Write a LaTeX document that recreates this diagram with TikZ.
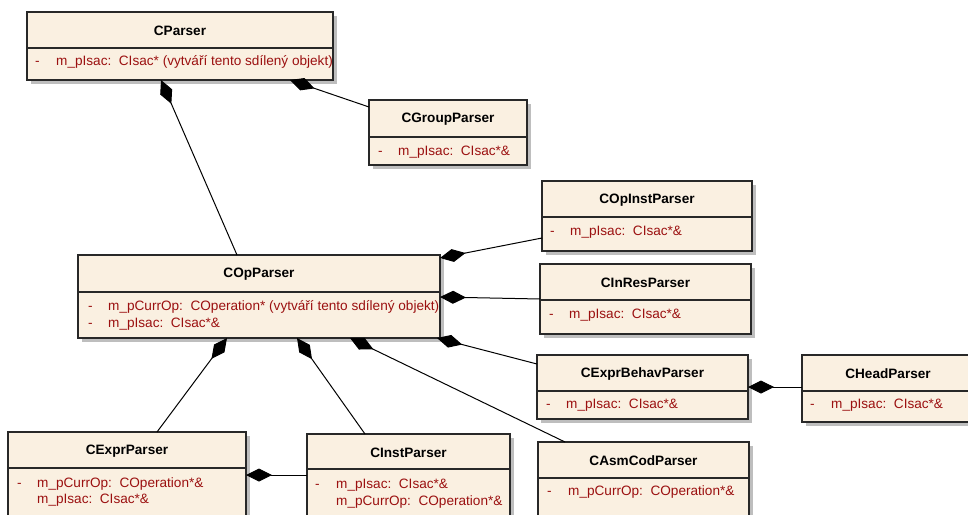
\documentclass[tikz,border=0pt]{standalone}
\usepackage{fontspec}
\setmainfont{Liberation Sans}
\usetikzlibrary{arrows.meta,shadows}

\definecolor{classfill}{RGB}{250,240,225}
\definecolor{classline}{RGB}{40,40,40}
\definecolor{attrred}{RGB}{155,16,16}
\definecolor{shadowgray}{RGB}{190,190,190}

\tikzset{
  classbox/.style={draw=classline, line width=1.2pt, fill=classfill,
    anchor=north west, inner sep=0pt, outer sep=0pt,
    drop shadow={shadow xshift=4pt, shadow yshift=-4pt, fill=shadowgray, opacity=1}},
  sepline/.style={draw=classline, line width=1.2pt},
  classtitle/.style={font=\fontsize{13.6}{16}\selectfont\bfseries, text=black, inner sep=0pt},
  attr/.style={font=\fontsize{13.6}{16}\selectfont, text=attrred, inner sep=0pt, anchor=base west},
  comp/.style={draw=black, line width=1pt, {Diamond[length=26pt,width=13pt,fill=black]}-},
}

% class box: name, x, y (top left), width, height, header height, title
\newcommand\umlclass[7]{%
  \node[classbox, minimum width=#4pt, minimum height=#5pt] (#1) at (#2,#3) {};
  \draw[sepline] ([yshift={-#6pt}]#1.north west) -- ([yshift={-#6pt}]#1.north east);
  \node[classtitle] (#1-title) at ([yshift={-0.5*#6pt-1pt}]#1.north) {#7};
}

\begin{document}
\begin{tikzpicture}[x=1pt, y=-1pt]
  \useasboundingbox (0,0) rectangle (968,514);
  \clip (0,0) rectangle (968,514);

  % classes
  \umlclass{cparser}{27}{12}{306}{68}{36}{CParser}
  \umlclass{cgroup}{369}{100}{158}{65}{37}{CGroupParser}
  \umlclass{copparser}{78}{255}{362}{83}{37}{COpParser}
  \umlclass{copinst}{542}{181}{210}{70}{36}{COpInstParser}
  \umlclass{cinres}{540}{264}{211}{70}{36}{CInResParser}
  \umlclass{cexprbehav}{537}{355}{211}{64}{36}{CExprBehavParser}
  \umlclass{chead}{802}{355}{172}{67}{36}{CHeadParser}
  \umlclass{cexpr}{8}{432}{238}{100}{36}{CExprParser}
  \umlclass{cinst}{307}{434}{203}{100}{35}{CInstParser}
  \umlclass{casm}{538}{442}{211}{100}{36}{CAsmCodParser}

  % attributes
  \node[attr] (cparser-d1) at (35,65) {-};
  \node[attr] (cparser-a1) at (56,65) {m\_pIsac:\ \ CIsac* (vytváří tento sdílený objekt)};

  \node[attr] (cgroup-d1) at (378,155) {-};
  \node[attr] (cgroup-a1) at (398,155) {m\_pIsac:\ \ CIsac*\&};

  \node[attr] (copparser-d1) at (88,310) {-};
  \node[attr] (copparser-a1) at (108,310) {m\_pCurrOp:\ \ COperation* (vytváří tento sdílený objekt)};
  \node[attr] (copparser-d2) at (88,327) {-};
  \node[attr] (copparser-a2) at (108,327) {m\_pIsac:\ \ CIsac*\&};

  \node[attr] (copinst-d1) at (550,235) {-};
  \node[attr] (copinst-a1) at (570,235) {m\_pIsac:\ \ CIsac*\&};

  \node[attr] (cinres-d1) at (549,318) {-};
  \node[attr] (cinres-a1) at (569,318) {m\_pIsac:\ \ CIsac*\&};

  \node[attr] (cexprbehav-d1) at (546,408) {-};
  \node[attr] (cexprbehav-a1) at (566,408) {m\_pIsac:\ \ CIsac*\&};

  \node[attr] (chead-d1) at (810,408) {-};
  \node[attr] (chead-a1) at (831,408) {m\_pIsac:\ \ CIsac*\&};

  \node[attr] (cexpr-d1) at (17,487) {-};
  \node[attr] (cexpr-a1) at (37,487) {m\_pCurrOp:\ \ COperation*\&};
  \node[attr] (cexpr-a2) at (37,503) {m\_pIsac:\ \ CIsac*\&};

  \node[attr] (cinst-d1) at (315,488) {-};
  \node[attr] (cinst-a1) at (336,488) {m\_pIsac:\ \ CIsac*\&};
  \node[attr] (cinst-a2) at (336,505) {m\_pCurrOp:\ \ COperation*\&};

  \node[attr] (casm-d1) at (547,495) {-};
  \node[attr] (casm-a1) at (568,495) {m\_pCurrOp:\ \ COperation*\&};

  % composition connectors (diamond at the owner)
  \draw[comp] ([xshift=134pt]cparser.south west) -- ([xshift=159pt]copparser.north west);
  \draw[comp] ([xshift=263pt]cparser.south west) -- ([yshift=-7pt]cgroup.north west);
  \draw[comp] ([yshift=-3pt]copparser.north east) -- ([yshift=-57pt]copinst.north west);
  \draw[comp] ([yshift=-42pt]copparser.north east) -- ([yshift=-35pt]cinres.north west);
  \draw[comp] ([xshift=-3pt]copparser.south east) -- ([yshift=-9pt]cexprbehav.north west);
  \draw[comp] ([xshift=272pt]copparser.south west) -- ([xshift=27pt]casm.north west);
  \draw[comp] ([xshift=219pt]copparser.south west) -- ([xshift=58pt]cinst.north west);
  \draw[comp] ([xshift=149pt]copparser.south west) -- ([xshift=149pt]cexpr.north west);
  \draw[comp] ([yshift=-43pt]cexpr.north east) -- ([yshift=-41pt]cinst.north west);
  \draw[comp] ([yshift=-32pt]cexprbehav.north east) -- ([yshift=-32pt]chead.north west);
\end{tikzpicture}
\end{document}
